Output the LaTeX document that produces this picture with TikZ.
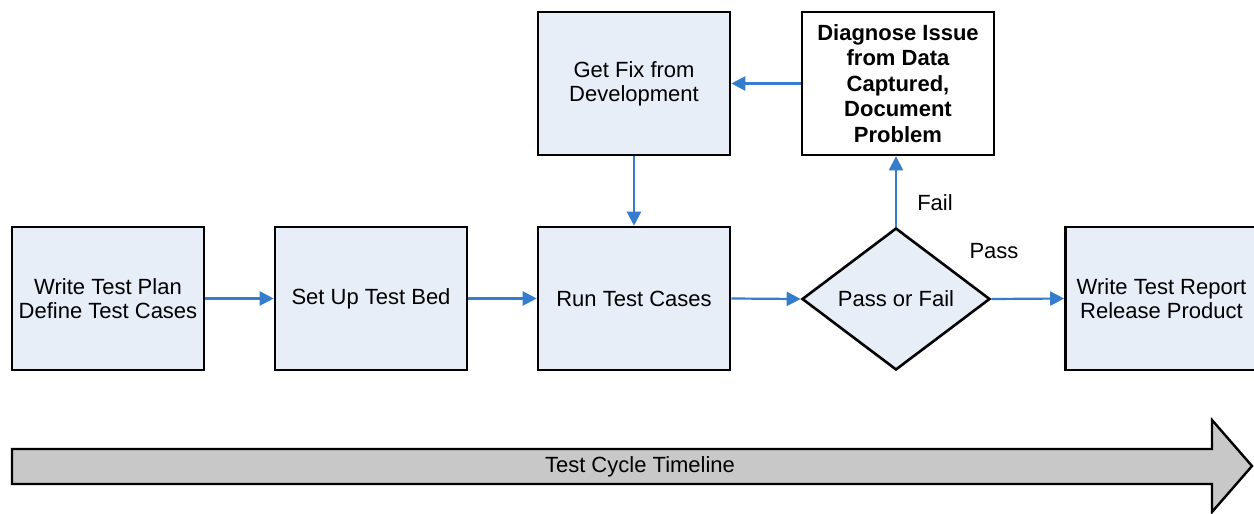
\documentclass[tikz,border=0pt]{standalone}
\usepackage{fontspec}
\setmainfont{Liberation Sans}
\usetikzlibrary{arrows.meta,shapes.geometric}
\definecolor{boxfill}{RGB}{231,238,248}
\definecolor{flowblue}{RGB}{52,124,204}
\definecolor{tlgray}{RGB}{200,200,200}
\tikzset{
  stepbox/.style={draw=black, line width=2.6pt, fill=boxfill, minimum width=192pt, minimum height=143pt, inner sep=0pt, align=center, font=\fontsize{22}{24}\selectfont},
  whitebox/.style={stepbox, fill=white, font=\bfseries\fontsize{22}{25.5}\selectfont},
  decide/.style={draw=black, line width=2.6pt, fill=boxfill, diamond, minimum width=188pt, minimum height=142pt, inner sep=0pt, font=\fontsize{22}{24}\selectfont},
  flow/.style={draw=flowblue, line width=2.2pt, -{Triangle[length=14pt,width=14pt]}},
  lbl/.style={font=\fontsize{22}{24}\selectfont, inner sep=0pt}
}
\begin{document}
\begin{tikzpicture}[x=1pt,y=-1pt]
\useasboundingbox (0,0) rectangle (1254,514);
\node[stepbox] (plan) at (108,298.5) {Write Test Plan\\Define Test Cases};
\node[stepbox] (bed) at (371,298.5) {Set Up Test Bed};
\node[stepbox] (run) at (634,298.5) {Run Test Cases};
\node[decide] (pf) at (896,299) {Pass or Fail};
\node[stepbox] (rep) at (1161.5,298.5) {Write Test Report\\Release Product};
\node[stepbox] (fix) at (634,83.5) {Get Fix from\\Development};
\node[whitebox] (diag) at (898,83.5) {Diagnose Issue\\from Data\\Captured,\\Document\\Problem};
\draw[flow] (plan.east) -- (bed.west);
\draw[flow] (bed.east) -- (run.west);
\draw[flow] (run.east) -- (pf.west);
\draw[flow] (pf.east) -- (rep.west);
\draw[flow] (fix.south) -- (run.north);
\draw[flow] (diag.west) -- (fix.east);
\draw[flow] (pf.north) -- (pf.north |- diag.south);
\node[lbl] (fail) at (935,203) {Fail};
\node[lbl] (pass) at (994,251) {Pass};
\draw[line width=2.4pt, fill=tlgray, line join=miter]
  (12,449) -- (1212,449) -- (1212,420) -- (1252,466) -- (1212,512) -- (1212,484) -- (12,484) -- cycle;
\node[lbl] (tl) at (640,466.5) {Test Cycle Timeline};
\end{tikzpicture}
\end{document}
